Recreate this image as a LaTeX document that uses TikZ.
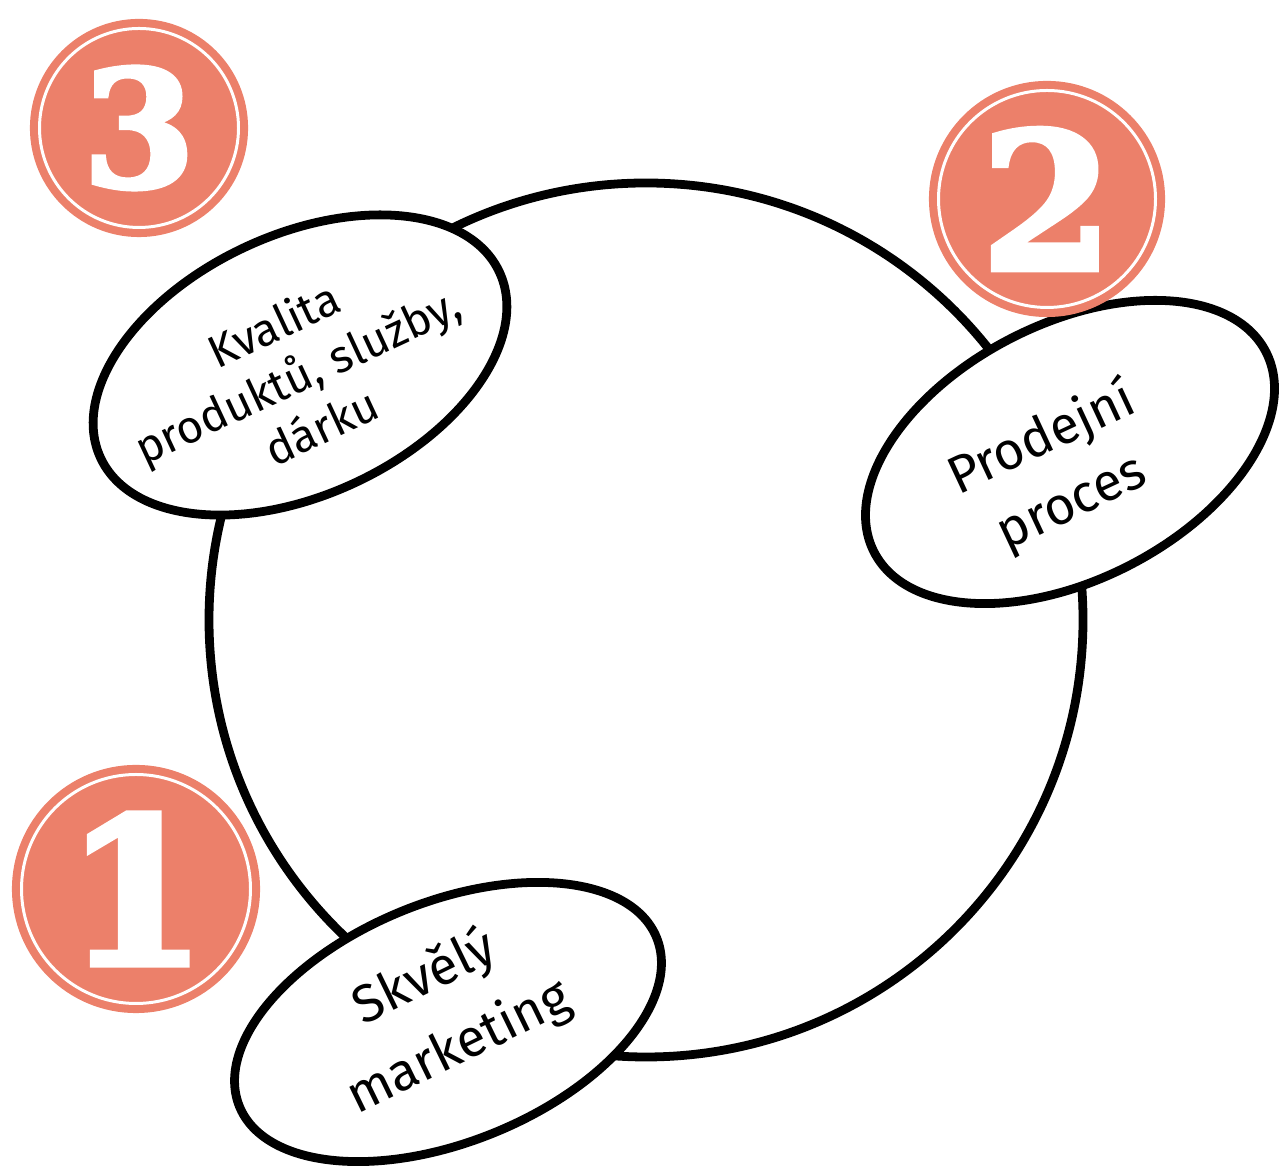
\documentclass[tikz,border=0pt]{standalone}
\usepackage{fontspec}
\setmainfont{Fira Sans}
\newfontfamily\numfont[BoldFeatures={FakeBold=3}]{DejaVu Serif}
\usetikzlibrary{shapes.geometric}
\definecolor{badgeorange}{RGB}{236,128,106}

\begin{document}
\begin{tikzpicture}[
  cyc/.style={line width=2.5pt},
  bubble/.style={ellipse, draw, line width=2.5pt, fill=white, inner sep=0pt},
  bubbletext/.style={align=center},
  badge/.style={circle, fill=badgeorange, draw=badgeorange, double=white,
    double distance=0.85pt, line width=2.3pt, inner sep=0pt, text=white}
]
\useasboundingbox (0,0) rectangle (12.79,11.67);
% the cycle
\coordinate (hub) at (6.46,5.47);
\draw[cyc] (hub) circle[radius=4.37];
% bubbles sitting on the cycle
\node[bubble, rotate=25, minimum width=4.4cm, minimum height=2.6cm] (kvalita) at (3.00,8.02) {};
\node[bubble, rotate=27, minimum width=4.4cm, minimum height=2.56cm] (prodej) at (10.70,7.15) {};
\node[bubble, rotate=22, minimum width=4.5cm, minimum height=2.4cm] (marketing) at (4.48,1.45) {};
\node[bubbletext, rotate=25, font=\fontsize{13}{16}\selectfont] (kvalita-txt) at (2.97,7.92)
  {Kvalita\\produktů, služby,\\dárku};
\node[bubbletext, rotate=25, font=\fontsize{15}{20}\selectfont] (prodej-txt) at (10.57,6.96)
  {Prodejní\\proces};
\node[bubbletext, rotate=26, font=\fontsize{15}{22}\selectfont] (marketing-txt) at (4.42,1.54)
  {Skvělý\\marketing};
% numbered badges
\node[badge, minimum size=2.29cm, font=\numfont\bfseries\fontsize{58}{58}\selectfont] (one) at (1.36,2.78) {1};
\node[badge, minimum size=2.17cm, font=\numfont\bfseries\fontsize{54}{54}\selectfont] (two) at (10.47,9.68) {2};
\node[badge, minimum size=1.99cm, font=\numfont\bfseries\fontsize{46}{46}\selectfont] (three) at (1.39,10.39) {3};
\end{tikzpicture}
\end{document}
